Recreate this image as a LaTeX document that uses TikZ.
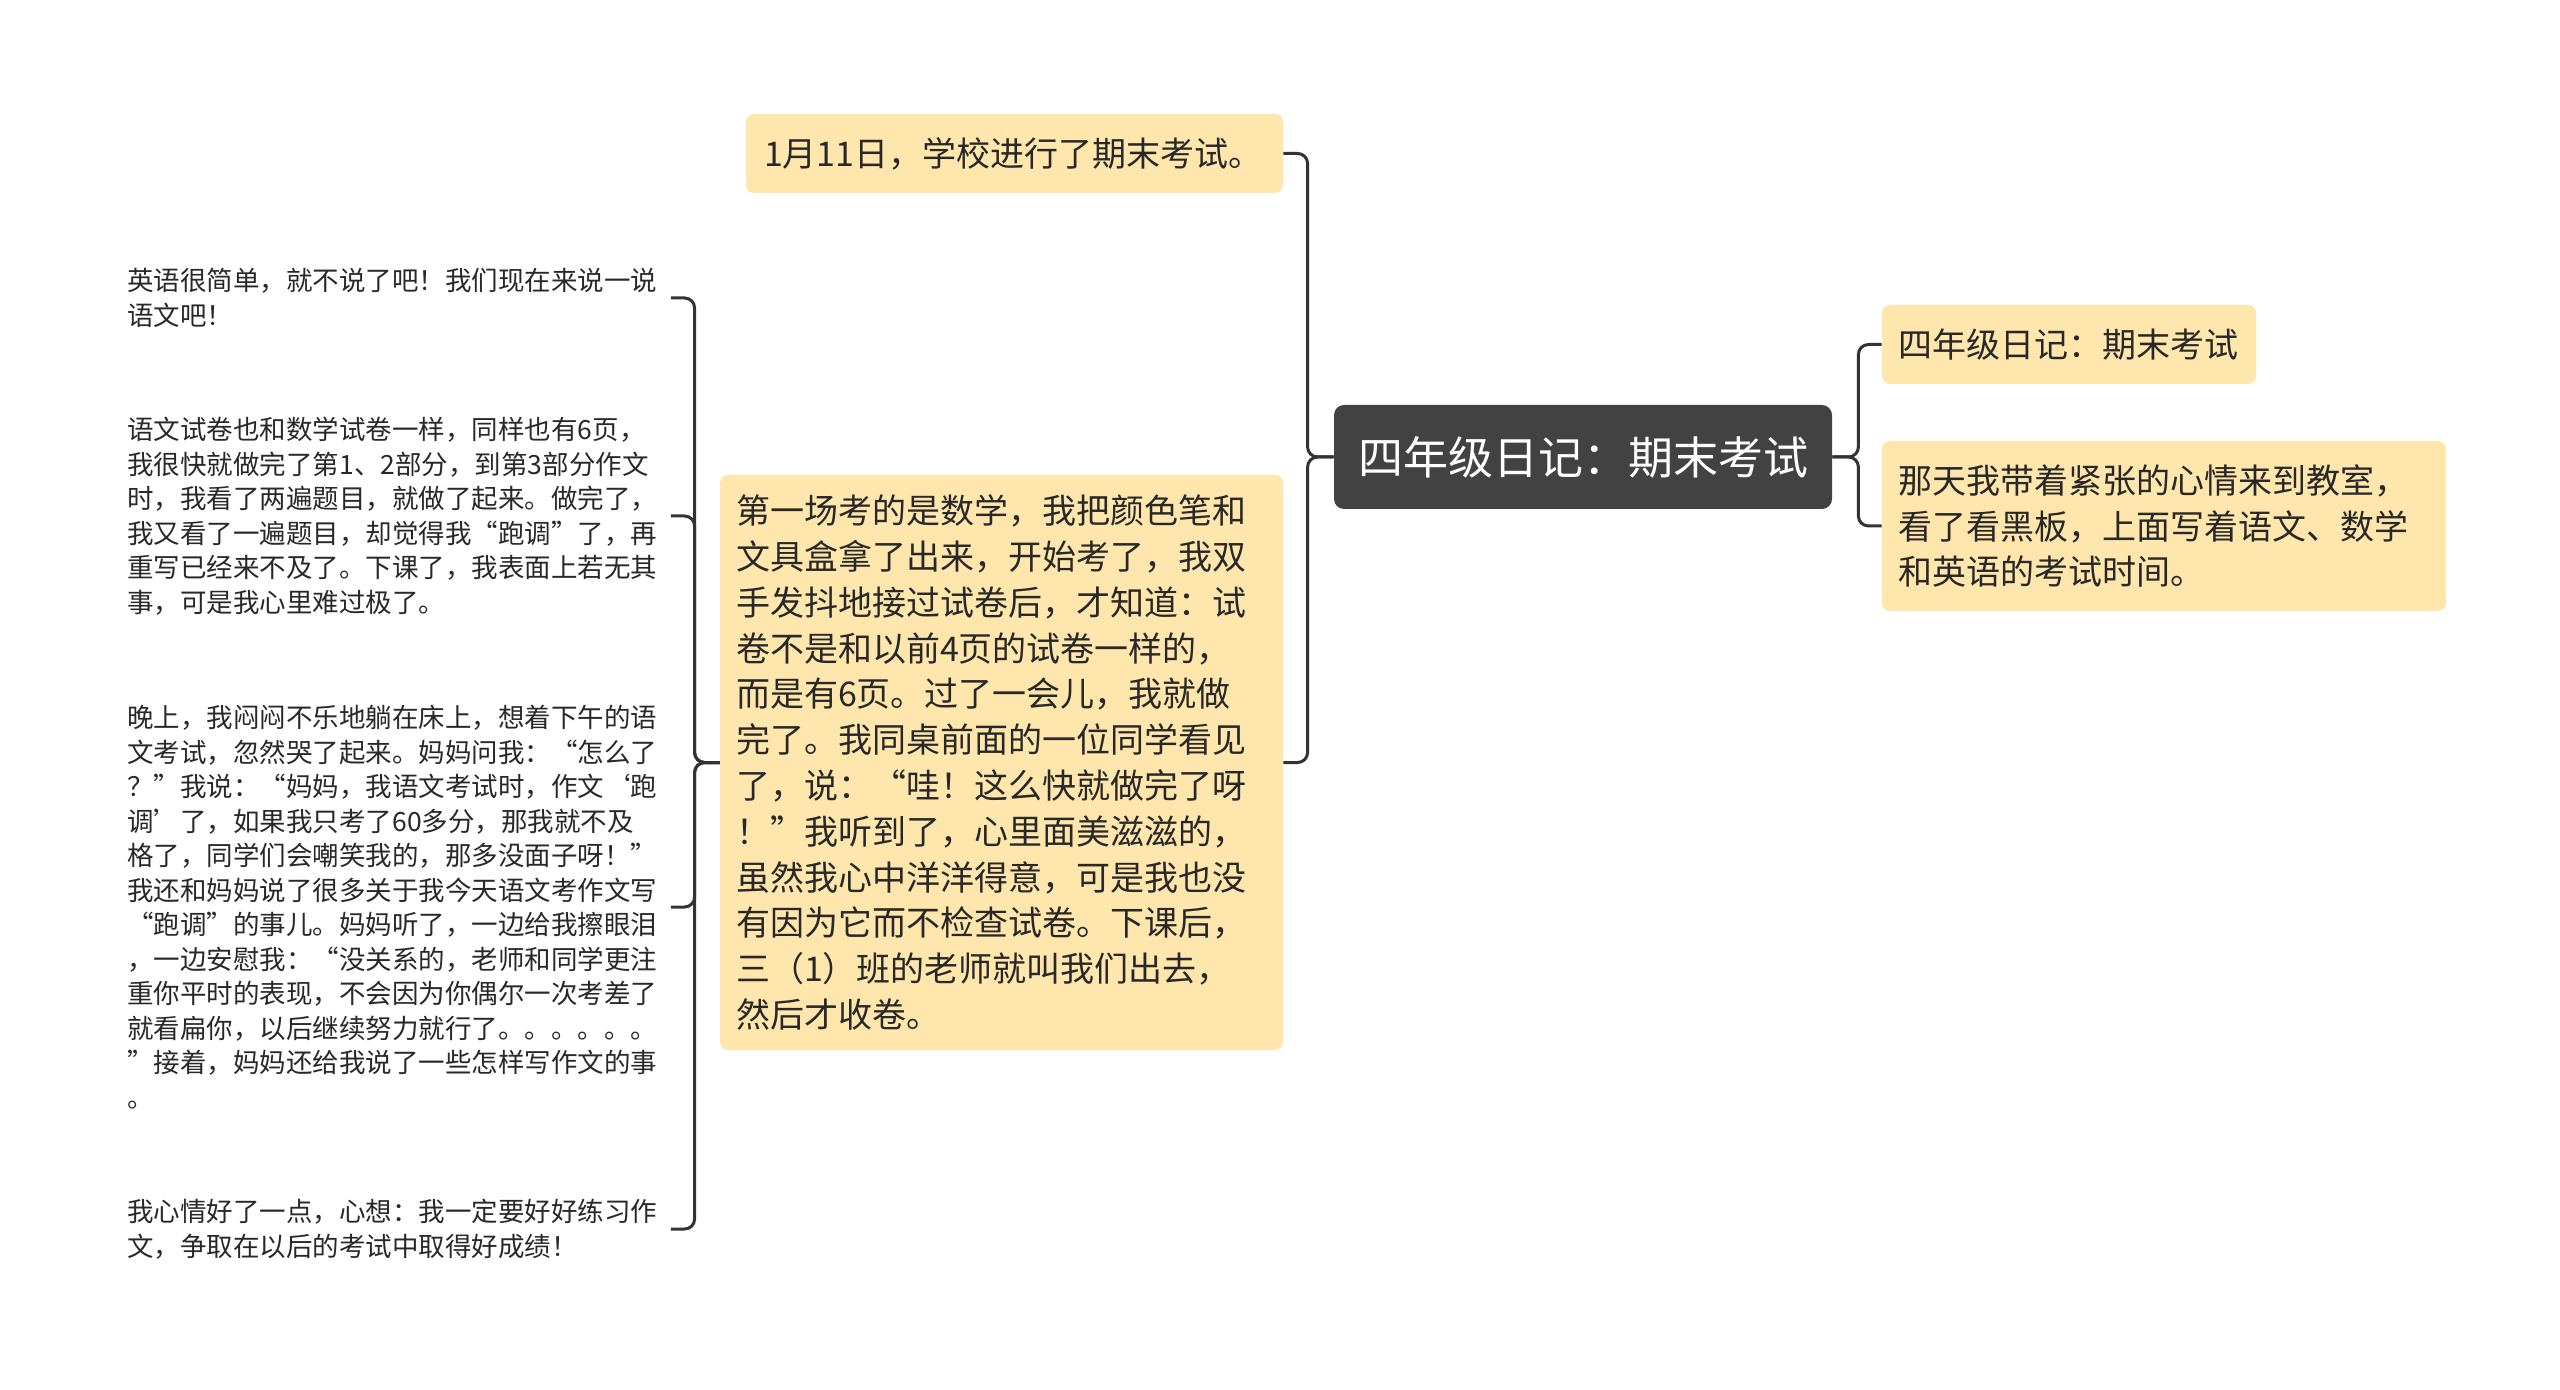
\documentclass[tikz,border=0pt]{standalone}
\usepackage{fontspec}
\setmainfont{Noto Sans CJK SC}
\definecolor{boxfill}{RGB}{254,230,172}
\definecolor{rootfill}{RGB}{66,66,66}
\definecolor{txt}{RGB}{40,40,40}
\definecolor{linec}{RGB}{51,51,51}
\begin{document}
\begin{tikzpicture}[
  x=1pt,y=1pt,
  box/.style={fill=boxfill, rounded corners=4pt, inner ysep=0pt, align=left, text=txt,
              font=\fontsize{17}{22.9}\selectfont},
  rootbox/.style={fill=rootfill, rounded corners=5pt, inner ysep=0pt, align=center, text=white,
              font=\fontsize{22.5}{28}\selectfont},
  plain/.style={inner xsep=6.5pt, inner ysep=0pt, text width=265pt, align=left, anchor=west, text=txt,
              font=\fontsize{13.25}{17.25}\selectfont},
  conn/.style={draw=linec, line width=1.5pt, rounded corners=5pt}
]
\useasboundingbox (0,0) rectangle (1280,-695);

% root
\node[rootbox, minimum width=249pt, minimum height=52pt, text width=225pt, inner xsep=12pt]
  (root) at (791.5,-228.5) {四年级日记：期末考试};

% right children
\node[box, minimum width=187pt, minimum height=39.5pt, text width=171pt, inner xsep=8pt]
  (r1) at (1034.5,-172.25) {四年级日记：期末考试};
\node[box, minimum width=282pt, minimum height=85pt, text width=266pt, inner xsep=8pt]
  (r2) at (1082,-263) {那天我带着紧张的心情来到教室，\\看了看黑板，上面写着语文、数学\\和英语的考试时间。};

% left children of root
\node[box, minimum width=268.5pt, minimum height=39.5pt, text width=250.5pt, inner xsep=9pt]
  (top) at (507.25,-76.75) {1月11日，学校进行了期末考试。};
\node[box, minimum width=281.5pt, minimum height=287.5pt, text width=265.5pt, inner xsep=8pt]
  (mid) at (500.75,-381.25) {第一场考的是数学，我把颜色笔和\\文具盒拿了出来，开始考了，我双\\手发抖地接过试卷后，才知道：试\\卷不是和以前4页的试卷一样的，\\而是有6页。过了一会儿，我就做\\完了。我同桌前面的一位同学看见\\了，说：“哇！这么快就做完了呀\\！”我听到了，心里面美滋滋的，\\虽然我心中洋洋得意，可是我也没\\有因为它而不检查试卷。下课后，\\三（1）班的老师就叫我们出去，\\然后才收卷。};

% left texts of mid
\node[plain] (t1) at (57,-149) {英语很简单，就不说了吧！我们现在来说一说\\语文吧！};
\node[plain] (t2) at (57,-258) {语文试卷也和数学试卷一样，同样也有6页，\\我很快就做完了第1、2部分，到第3部分作文\\时，我看了两遍题目，就做了起来。做完了，\\我又看了一遍题目，却觉得我“跑调”了，再\\重写已经来不及了。下课了，我表面上若无其\\事，可是我心里难过极了。};
\node[plain] (t3) at (57,-453.5) {晚上，我闷闷不乐地躺在床上，想着下午的语\\文考试，忽然哭了起来。妈妈问我：“怎么了\\？”我说：“妈妈，我语文考试时，作文‘跑\\调’了，如果我只考了60多分，那我就不及\\格了，同学们会嘲笑我的，那多没面子呀！”\\我还和妈妈说了很多关于我今天语文考作文写\\“跑调”的事儿。妈妈听了，一边给我擦眼泪\\，一边安慰我：“没关系的，老师和同学更注\\重你平时的表现，不会因为你偶尔一次考差了\\就看扁你，以后继续努力就行了。。。。。。\\”接着，妈妈还给我说了一些怎样写作文的事\\。};
\node[plain] (t4) at (57,-614.5) {我心情好了一点，心想：我一定要好好练习作\\文，争取在以后的考试中取得好成绩！};

% connectors
\draw[conn] (root.east) -- ([xshift=13pt]root.east) |- (r1.west);
\draw[conn] (root.east) -- ([xshift=13pt]root.east) |- (r2.west);
\draw[conn] (root.west) -- ([xshift=-13pt]root.west) |- (top.east);
\draw[conn] (root.west) -- ([xshift=-13pt]root.west) |- (mid.east);
\draw[conn] (mid.west) -- ([xshift=-12.5pt]mid.west) |- (t1.east);
\draw[conn] (mid.west) -- ([xshift=-12.5pt]mid.west) |- (t2.east);
\draw[conn] (mid.west) -- ([xshift=-12.5pt]mid.west) |- (t3.east);
\draw[conn] (mid.west) -- ([xshift=-12.5pt]mid.west) |- (t4.east);
\end{tikzpicture}
\end{document}
